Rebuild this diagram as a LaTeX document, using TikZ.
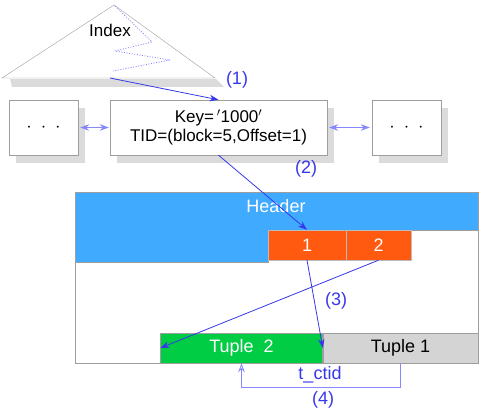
\documentclass[tikz,border=0pt]{standalone}
\usepackage{fontspec}
\setmainfont{Liberation Sans}
\usetikzlibrary{arrows.meta}
\usetikzlibrary{shadows}
\definecolor{gris}{rgb}{0.62,0.62,0.62}
\definecolor{ombre}{rgb}{0.86,0.86,0.86}
\definecolor{cheader}{RGB}{64,170,255}
\definecolor{citem}{RGB}{255,90,16}
\definecolor{cvert}{RGB}{0,204,68}
\definecolor{cgris}{RGB}{212,212,212}
\definecolor{cfleche}{RGB}{55,55,235}
\definecolor{cpale}{RGB}{135,135,255}
\newcommand{\pts}{{\fontsize{7}{7}\selectfont\textbullet\hspace{12pt}\textbullet\hspace{12pt}\textbullet}}

\begin{document}
\begin{tikzpicture}[x=1pt, y=-1pt, >={Stealth[length=9pt, width=6.5pt]}, thin]
  \tikzstyle{bloc}=[rectangle, draw=gris, fill=white, text=black, minimum height=55pt, inner sep=1pt,
    drop shadow={shadow xshift=7pt, shadow yshift=-8pt, fill=ombre, opacity=1}, font=\fontsize{17}{19}\selectfont]
  \tikzstyle{item}=[rectangle, fill=citem, draw=gris!70, text=white, minimum height=30pt, inner sep=0pt, font=\fontsize{18}{20}\selectfont]
  \tikzstyle{tuple}=[rectangle, draw=gris, minimum height=30pt, inner sep=0pt, font=\fontsize{18}{20}\selectfont]
  \tikzstyle{etiq}=[text=cfleche, inner sep=1pt, font=\fontsize{18}{20}\selectfont]

  \useasboundingbox (0,0) rectangle (486,414);

	% index
	\fill[ombre] (10,79) -- (216,79) -- (224,87) -- (12,87) -- cycle;
	\draw[draw=gris, fill=white] (114,5) -- (215,78) -- (2,78) -- cycle;
	\draw[cpale, line width=0.8pt, dash pattern=on 1pt off 1.6pt] (115,6) -- (152,42) -- (115,51) -- (170,60) -- (113,71);
	\node[font=\fontsize{17}{19}\selectfont] (index) at (110,30) {Index};
	\coordinate (feuille) at (110,78);

	\node[bloc, minimum width=69pt] (gauche) at (43.5,127.5) {\pts};
	\node[bloc, minimum width=217pt, align=center] (cle) at (218.5,127.5) {Key=\,$'$1000$'$\\TID=(block=5,Offset=1)};
	\node[bloc, minimum width=69pt] (droite) at (406.5,127.5) {\pts};

	% page
	\draw[draw=gris, fill=white] (75,192) rectangle (478,363);
	\draw[draw=gris, fill=cheader] (75,192) -- (478,192) -- (478,230) -- (268,230) -- (268,262) -- (75,262) -- cycle;
	\node[text=white, font=\fontsize{18}{20}\selectfont] (header) at (276,206) {Header};

	\node[item, minimum width=78pt] (lp1) at (307,245) {1};
	\node[item, minimum width=65pt] (lp2) at (378.5,245) {2};

	\node[tuple, fill=cvert, text=white, minimum width=162pt] (tup2) at (241.5,348) {Tuple\ \ 2};
	\node[tuple, fill=cgris, text=black, minimum width=155pt] (tup1) at (400.5,348) {Tuple 1};

	\path[->, cpale, line width=0.8pt]
		(gauche) edge [<->, shorten <=2pt, shorten >=1pt] (cle)
		(cle) edge [<->, shorten <=2pt, shorten >=2pt] (droite)
		;
	\path[->, cfleche, line width=0.8pt]
		(feuille) edge (cle.north)
		(cle.south) edge (lp1.north)
		(lp1.south) edge (tup1.west)
		(lp2.south) edge (tup2.west)
		;
	\draw[-{Stealth[length=9pt, width=6.5pt, open]}, cpale, line width=0.8pt] (tup1.south) -- ++(0,24) -| (tup2.south);

	\node[etiq] (e1) at (237,80) {(1)};
	\node[etiq] (e2) at (306,169) {(2)};
	\node[etiq] (e3) at (336,301) {(3)};
	\node[etiq] (ctid) at (320,375) {t\_ctid};
	\node[etiq] (e4) at (323,400) {(4)};

\end{tikzpicture}
\end{document}
